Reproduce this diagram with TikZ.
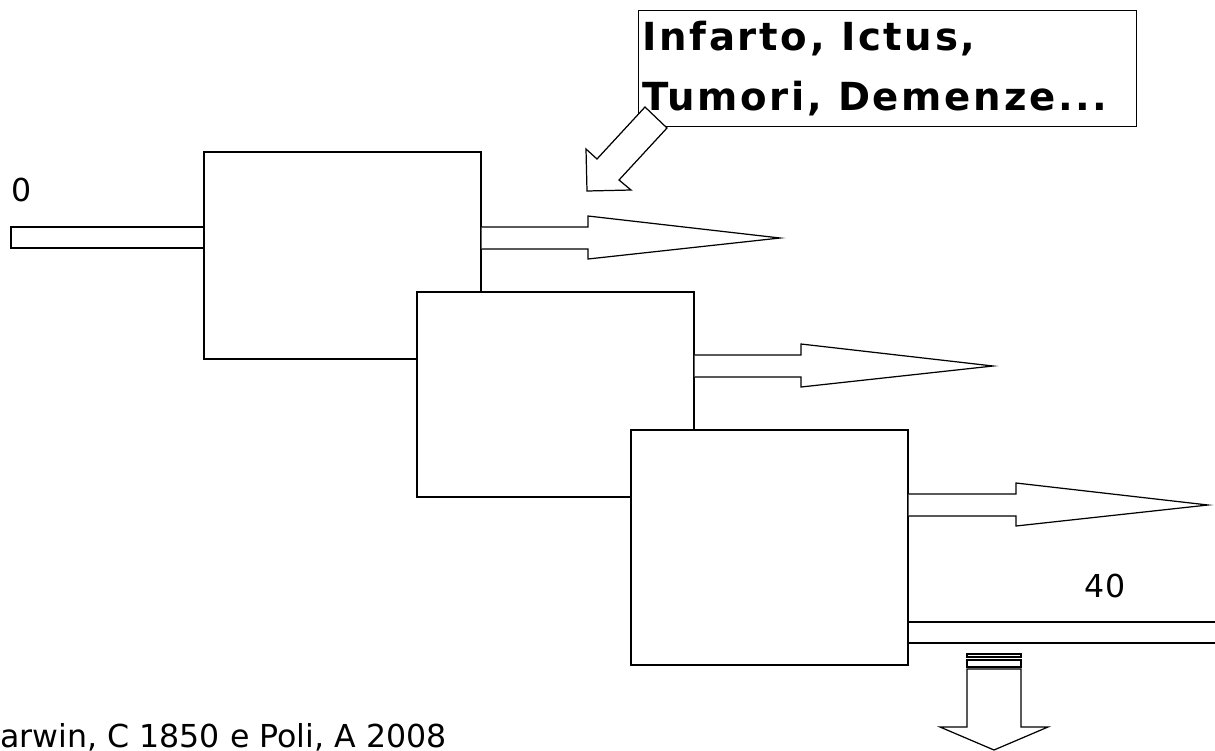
\documentclass[tikz,border=0pt]{standalone}
\usepackage{fontspec}
\setmainfont{DejaVu Sans}
\usepackage{tikz}
\usetikzlibrary{positioning}

\tikzset{
    stage/.style={draw, fill=white, line width=0.8pt, inner sep=0pt},
    blockarrow/.style={draw, fill=white, line width=0.7pt, line join=miter},
    plainlabel/.style={inner sep=0pt, font=\fontsize{18pt}{22pt}\selectfont},
    warnbox/.style={draw, fill=white, line width=0.8pt, inner sep=0pt, anchor=north west}
}

\begin{document}
\begin{tikzpicture}[x=0.02cm, y=-0.02cm]
    \useasboundingbox (0,0) rectangle (1215,751);

    % Stage boxes, each one covering the previous
    \node[stage, minimum width=5.54cm, minimum height=4.14cm] (stageA) at (342.5,255.5) {};
    \node[stage, minimum width=5.54cm, minimum height=4.10cm] (stageB) at (555.5,394.5) {};
    \node[stage, minimum width=5.54cm, minimum height=4.70cm] (stageC) at (769.5,547.5) {};

    % Input bar and its label
    \draw[line width=0.7pt] (stageA.west |- 0,227) -- (11,227) -- (11,248) -- (stageA.west |- 0,248);
    \node[plainlabel] (start) at (22,190) {0};

    % Output arrows
    \draw[blockarrow] (stageA.east |- 0,227) -- (588,227) -- (588,216) -- (780,238)
        -- (588,259) -- (588,249) -- (stageA.east |- 0,249);
    \draw[blockarrow] (stageB.east |- 0,355) -- (801,355) -- (801,344) -- (993,366)
        -- (801,387) -- (801,377) -- (stageB.east |- 0,377);
    \draw[blockarrow] (stageC.east |- 0,494) -- (1016,494) -- (1016,483) -- (1208,505)
        -- (1016,526) -- (1016,516) -- (stageC.east |- 0,516);

    % Exit bar at the bottom right
    \draw[line width=0.7pt] (stageC.east |- 0,622) -- (1215,622);
    \draw[line width=0.7pt] (stageC.east |- 0,643) -- (1215,643);
    \node[plainlabel] (end) at (1105,586) {40};

    % Down arrow
    \draw[blockarrow] (967,654) rectangle (1021,657);
    \draw[blockarrow] (967,660) rectangle (1021,667);
    \draw[blockarrow] (967,669) -- (1021,669) -- (1021,727) -- (1048,727) -- (994,750)
        -- (940,727) -- (967,727) -- cycle;

    % Callout with the events
    \node[warnbox, minimum width=9.96cm, minimum height=2.32cm] (events) at (638,10) {};
    \node[anchor=north west, align=left, inner sep=0pt,
          font=\fontsize{22pt}{34pt}\selectfont\bfseries\addfontfeatures{LetterSpace=7}]
        (eventtext) at (642,21) {Infarto, Ictus,\\Tumori, Demenze...};
    \draw[blockarrow] (645,107) -- (597,159) -- (586,149) -- (587,191) -- (631,190)
        -- (619,180) -- (667,128) -- cycle;

    % Source
    \node[plainlabel, anchor=base west] (source) at (0,747) {arwin, C 1850 e Poli, A 2008};
\end{tikzpicture}
\end{document}
